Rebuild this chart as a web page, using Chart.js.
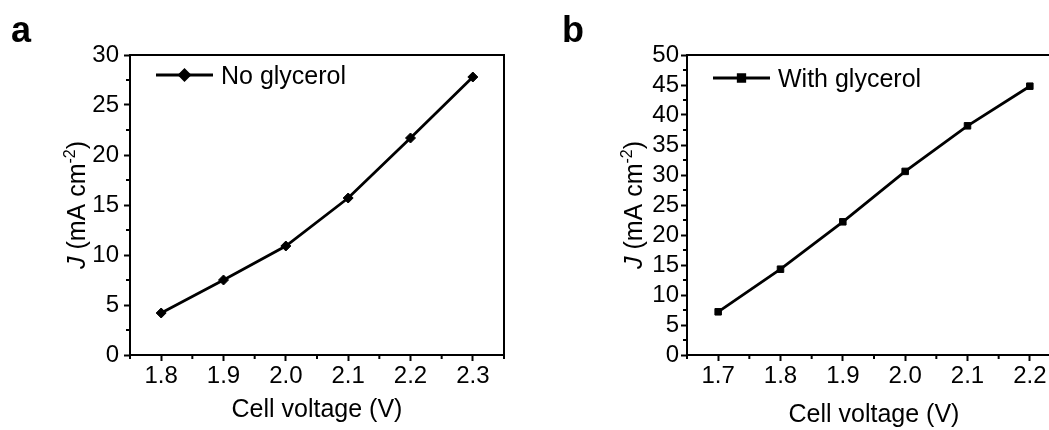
<!DOCTYPE html>
<html>
<head>
<meta charset="utf-8">
<script src="https://cdn.jsdelivr.net/npm/chart.js@4.4.1/dist/chart.umd.min.js"></script>
<style>
  html, body { margin: 0; padding: 0; background: #fff; overflow: hidden; }
  body { width: 1049px; height: 430px; position: relative; }
  .panel { position: absolute; top: 0; height: 430px; }
  #panelA { left: 0; width: 525px; }
  #panelB { left: 525px; width: 560px; }
</style>
</head>
<body>
<div class="panel" id="panelA"><canvas id="chartA" width="525" height="430"></canvas></div>
<div class="panel" id="panelB"><canvas id="chartB" width="560" height="430"></canvas></div>
<script>
// panel a: no glycerol
const voltageA = [1.8, 1.9, 2.0, 2.1, 2.2, 2.3];
const currentA = [4.2, 7.5, 10.9, 15.7, 21.7, 27.8];
const xTicksA = [1.8, 1.9, 2.0, 2.1, 2.2, 2.3];
const xMinorA = [1.75, 1.85, 1.95, 2.05, 2.15, 2.25, 2.35];
const yTicksA = [0, 5, 10, 15, 20, 25, 30];
const yMinorA = [2.5, 7.5, 12.5, 17.5, 22.5, 27.5];

// panel b: with glycerol
const voltageB = [1.7, 1.8, 1.9, 2.0, 2.1, 2.2];
const currentB = [7.2, 14.3, 22.2, 30.6, 38.2, 44.8];
const xTicksB = [1.7, 1.8, 1.9, 2.0, 2.1, 2.2];
const xMinorB = [1.65, 1.75, 1.85, 1.95, 2.05, 2.15, 2.25];
const yTicksB = [0, 5, 10, 15, 20, 25, 30, 35, 40, 45, 50];
const yMinorB = [2.5, 7.5, 12.5, 17.5, 22.5, 27.5, 32.5, 37.5, 42.5, 47.5];

const FONT = "'Liberation Sans', Arial, Helvetica, sans-serif";

// frame, minor ticks, in-plot legend, axis titles and panel letter
const panelDecor = {
  id: 'panelDecor',
  afterDraw(chart, args, opts) {
    const { ctx, chartArea: a, scales: { x, y } } = chart;
    ctx.save();
    ctx.strokeStyle = '#000';
    ctx.fillStyle = '#000';
    ctx.lineWidth = 2;
    ctx.strokeRect(a.left, a.top, a.right - a.left, a.bottom - a.top);

    ctx.beginPath();
    opts.xMinor.forEach(v => {
      const px = x.getPixelForValue(v);
      ctx.moveTo(px, a.bottom);
      ctx.lineTo(px, a.bottom + 4);
    });
    opts.yMinor.forEach(v => {
      const py = y.getPixelForValue(v);
      ctx.moveTo(a.left, py);
      ctx.lineTo(a.left - 4, py);
    });
    ctx.stroke();

    // legend
    const ds = chart.data.datasets[0];
    const lx = a.left + 26, ly = a.top + opts.legendDy;
    ctx.lineWidth = ds.borderWidth;
    ctx.beginPath();
    ctx.moveTo(lx, ly);
    ctx.lineTo(lx + 57, ly);
    ctx.stroke();
    Chart.helpers.drawPoint(ctx, {
      pointStyle: ds.pointStyle, radius: ds.pointRadius, rotation: 0, borderWidth: 1
    }, lx + 28.5, ly);
    ctx.font = `25px ${FONT}`;
    ctx.textBaseline = 'alphabetic';
    ctx.textAlign = 'left';
    ctx.fillText(ds.label, lx + 65, ly + 9);

    // x title
    ctx.textAlign = 'center';
    ctx.fillText('Cell voltage (V)', (a.left + a.right) / 2, opts.xTitleY);

    // y title: italic J, superscript -2
    const parts = [
      { t: 'J', f: `italic 25px ${FONT}`, dy: 0 },
      { t: ' (mA cm', f: `25px ${FONT}`, dy: 0 },
      { t: '-2', f: `16px ${FONT}`, dy: -10 },
      { t: ')', f: `25px ${FONT}`, dy: 0 }
    ];
    let total = 0;
    parts.forEach(p => { ctx.font = p.f; p.w = ctx.measureText(p.t).width; total += p.w; });
    ctx.translate(a.left - 54, (a.top + a.bottom) / 2);
    ctx.rotate(-Math.PI / 2);
    ctx.textAlign = 'left';
    let cx = -total / 2;
    parts.forEach(p => {
      ctx.font = p.f;
      ctx.fillText(p.t, cx, 9 + p.dy);
      cx += p.w;
    });
    ctx.restore();

    // panel letter
    ctx.save();
    ctx.font = `bold 36px ${FONT}`;
    ctx.fillStyle = '#000';
    ctx.textAlign = 'left';
    ctx.fillText(opts.letter, opts.letterX, 42);
    ctx.restore();
  }
};

function makeChart(id, xs, ys, cfg) {
  const tickFont = { family: FONT, size: 24 };
  return new Chart(document.getElementById(id), {
    type: 'line',
    data: {
      datasets: [{
        label: cfg.label,
        data: xs.map((v, i) => ({ x: v, y: ys[i] })),
        borderColor: '#000',
        backgroundColor: '#000',
        pointBackgroundColor: '#000',
        pointBorderColor: '#000',
        borderWidth: 2.8,
        pointStyle: cfg.pointStyle,
        pointRadius: cfg.pointRadius,
        pointBorderWidth: 1,
        tension: 0
      }]
    },
    options: {
      responsive: false,
      animation: false,
      layout: { padding: { left: 0, top: 55, right: cfg.padRight, bottom: 0 } },
      plugins: {
        legend: { display: false },
        tooltip: { enabled: false },
        panelDecor: cfg.decor
      },
      scales: {
        x: {
          type: 'linear',
          min: cfg.xMin,
          max: cfg.xMax,
          afterBuildTicks: s => { s.ticks = cfg.xTicks.map(v => ({ value: v })); },
          afterFit: s => { s.height = 75; },
          ticks: {
            callback: v => Number(v).toFixed(1),
            font: tickFont, color: '#000', padding: 1,
            maxRotation: 0, autoSkip: false
          },
          grid: { drawOnChartArea: false, drawTicks: true, tickLength: 6, tickWidth: 2, tickColor: '#000' },
          border: { display: true, color: '#000', width: 2 }
        },
        y: {
          min: cfg.yMin,
          max: cfg.yMax,
          afterBuildTicks: s => { s.ticks = cfg.yTicks.map(v => ({ value: v })); },
          afterFit: s => { s.width = cfg.left; },
          ticks: {
            font: tickFont, color: '#000', padding: cfg.yPad, autoSkip: false
          },
          grid: { drawOnChartArea: false, drawTicks: true, tickLength: 6, tickWidth: 2, tickColor: '#000' },
          border: { display: true, color: '#000', width: 2 }
        }
      }
    },
    plugins: [panelDecor]
  });
}

makeChart('chartA', voltageA, currentA, {
  label: 'No glycerol', pointStyle: 'rectRot', pointRadius: 5,
  xMin: 1.75, xMax: 2.35, yMin: 0, yMax: 30,
  xTicks: xTicksA, yTicks: yTicksA,
  left: 130, padRight: 21, yPad: 5,
  decor: { xMinor: xMinorA, yMinor: yMinorA, legendDy: 20, xTitleY: 417, letter: 'a', letterX: 11 }
});

makeChart('chartB', voltageB, currentB, {
  label: 'With glycerol', pointStyle: 'rect', pointRadius: 4.6,
  xMin: 1.65, xMax: 2.25, yMin: 0, yMax: 50,
  xTicks: xTicksB, yTicks: yTicksB,
  left: 162, padRight: 24, yPad: 2,
  decor: { xMinor: xMinorB, yMinor: yMinorB, legendDy: 23, xTitleY: 422, letter: 'b', letterX: 37 }
});
</script>
</body>
</html>
